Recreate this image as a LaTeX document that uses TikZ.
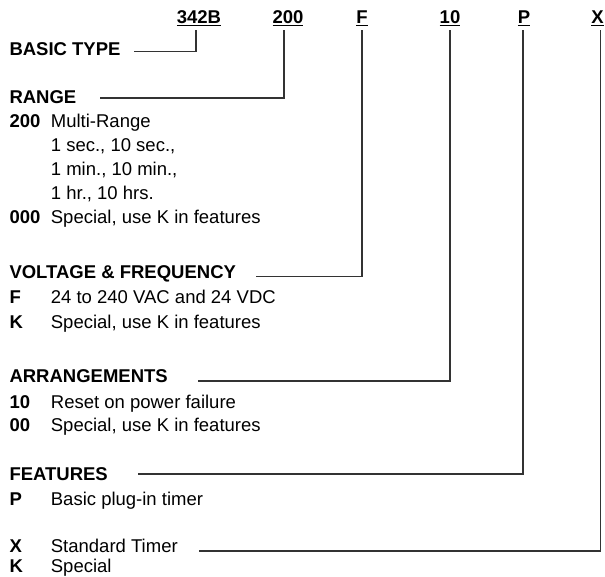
\documentclass[tikz,border=0pt]{standalone}
\usepackage{fontspec}
\setmainfont{Liberation Sans}
\usetikzlibrary{positioning}

\begin{document}
\begin{tikzpicture}[x=1pt,y=-1pt,
  every node/.style={font=\fontsize{18.5}{22}\selectfont,inner sep=0pt,anchor=base west},
  code/.style={font=\fontsize{18.5}{22}\selectfont\bfseries,anchor=base,inner xsep=0pt,inner ysep=4pt},
  head/.style={font=\fontsize{18.5}{22}\selectfont\bfseries},
  key/.style={font=\fontsize{18.5}{22}\selectfont\bfseries},
  lead/.style={draw=black!80,line width=1.3pt}]
\useasboundingbox (0,0) rectangle (605,577);
% model number
\node[code] (c342) at (199,24) {\underline{342B}};
\node[code] (c200) at (288,24) {\underline{200}};
\node[code] (cF) at (362,24) {\underline{F}};
\node[code] (c10) at (450,24) {\underline{10}};
\node[code] (cP) at (524,24) {\underline{P}};
\node[code] (cX) at (597.5,24) {\underline{X}};
% basic type
\node[head] (basic) at (9.3,56) {BASIC TYPE};
% range
\node[head] (range) at (9.3,104) {RANGE};
\node[key] (k200) at (9.3,128) {200};
\node (d200) at (50.7,128) {Multi-Range};
\node (d200a) at (50.7,152) {1 sec., 10 sec.,};
\node (d200b) at (50.7,176) {1 min., 10 min.,};
\node (d200c) at (50.7,200) {1 hr., 10 hrs.};
\node[key] (k000) at (9.3,224) {000};
\node (d000) at (50.7,224) {Special, use K in features};
% voltage
\node[head] (volt) at (9.3,279) {VOLTAGE \& FREQUENCY};
\node[key] (kF) at (9.3,304) {F};
\node (dF) at (50.7,304) {24 to 240 VAC and 24 VDC};
\node[key] (kK) at (9.3,328) {K};
\node (dK) at (50.7,328) {Special, use K in features};
% arrangements
\node[head] (arr) at (9.3,382) {ARRANGEMENTS};
\node[key] (k10) at (9.3,408) {10};
\node (d10) at (50.7,408) {Reset on power failure};
\node[key] (k00) at (9.3,431) {00};
\node (d00) at (50.7,431) {Special, use K in features};
% features
\node[head] (feat) at (9.3,480) {FEATURES};
\node[key] (kP) at (9.3,505) {P};
\node (dP) at (50.7,505) {Basic plug-in timer};
\node[key] (kX) at (9.3,552) {X};
\node (dX) at (50.7,552) {Standard Timer};
\node[key] (kS) at (9.3,572.5) {K};
\node (dS) at (50.7,572.5) {Special};
% leaders
\draw[lead] ([xshift=-3pt]c342.south) |- ([shift={(13,-4.3)}]basic.base east);
\draw[lead] ([xshift=-4pt]c200.south) |- ([shift={(23,-6)}]range.base east);
\draw[lead] (cF.south) |- ([shift={(20,-2.3)}]volt.base east);
\draw[lead] (c10.south) |- ([shift={(30,-1)}]arr.base east);
\draw[lead] ([xshift=-1pt]cP.south) |- ([shift={(30,-6)}]feat.base east);
\draw[lead] ([xshift=3pt]cX.south) |- ([shift={(21,-1)}]dX.base east);
\end{tikzpicture}
\end{document}
